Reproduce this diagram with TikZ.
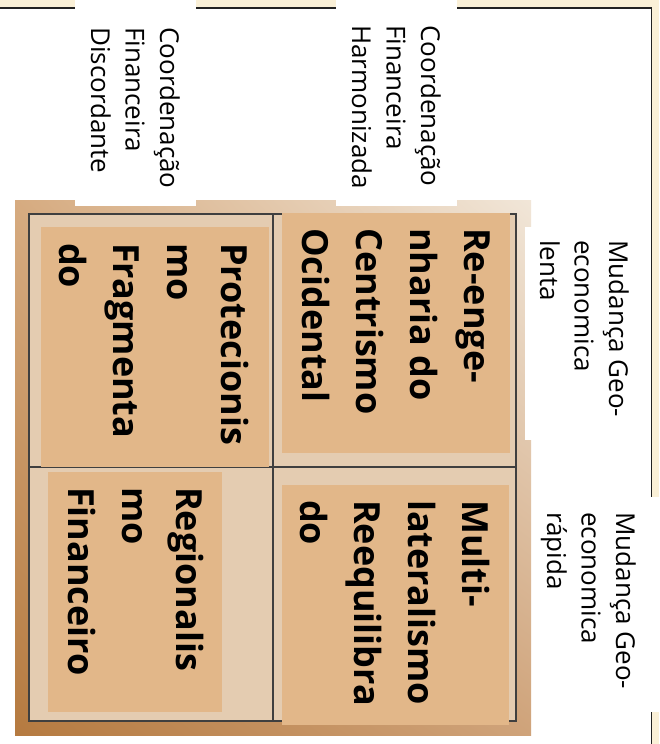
\documentclass[tikz,border=0pt]{standalone}
\usepackage{fontspec}
\setmainfont{Open Sans}
\usetikzlibrary{shadings}
\definecolor{page}{HTML}{FAF0D7}
\definecolor{frameTL}{HTML}{D6AB80}
\definecolor{frameTR}{HTML}{F1E6D8}
\definecolor{frameBL}{HTML}{B57A40}
\definecolor{frameBR}{HTML}{CFA37A}
\definecolor{cell}{HTML}{E4CCB1}
\definecolor{quad}{HTML}{E2B789}
\definecolor{gridline}{HTML}{3F3F3F}
\definecolor{border}{HTML}{222222}
\begin{document}
\begin{tikzpicture}[x=1pt,y=-1pt,
  quadtext/.style={rotate=-90,anchor=north west,inner sep=0pt,align=left,
    font=\fontsize{36}{54}\selectfont\bfseries},
  axistext/.style={rotate=-90,anchor=north west,inner sep=0pt,align=left,
    font=\fontsize{26}{34.5}\selectfont},
  labelbox/.style={fill=white,draw=none}]
\useasboundingbox (0,0) rectangle (659,744);
\begin{scope}
\clip (0,0) rectangle (659,744);
% page and slide area
\fill[page] (0,0) rectangle (659,744);
\fill[white,draw=border,line width=1.2pt] (-20,8) rectangle (651.5,780);
% shaded frame of the matrix
\shade[upper left=frameTL,upper right=frameTR,lower left=frameBL,lower right=frameBR]
  (15,200) rectangle (531,735);
% grid cells
\fill[cell] (29,214) rectangle (516,721);
\draw[gridline,line width=1.5pt] (29,214) rectangle (516,721);
\draw[gridline,line width=1.5pt] (273,214) -- (273,721);
\draw[gridline,line width=1.5pt] (29,467) -- (516,467);
% quadrant boxes
\fill[quad] (41,227) rectangle (269,467);
\fill[quad] (282,213) rectangle (510,453);
\fill[quad] (48,472) rectangle (222,712);
\fill[quad] (282,485) rectangle (509,725);
% axis label backgrounds
\fill[labelbox] (75,0) rectangle (196,206);
\fill[labelbox] (336,0) rectangle (457,206);
\fill[labelbox] (525,227) rectangle (651.5,440);
\draw[border,line width=1.2pt] (651.5,8) -- (651.5,744);
\fill[labelbox] (533,497) rectangle (659,712);
\end{scope}
% quadrant texts
\node[quadtext] (reeng) at (490,228) {Re-enge-\\nharia do\\Centrismo\\Ocidental};
\node[quadtext] (protec) at (249,243) {Protecionis\\mo\\Fragmenta\\do};
\node[quadtext] (multi) at (490,500) {Multi-\\lateralismo\\Reequilibra\\do};
\node[quadtext] (region) at (204,487) {Regionalis\\mo\\Financeiro};
% axis texts
\node[axistext] (harm) at (441,25) {Coordenação\\Financeira\\Harmonizada};
\node[axistext] (disc) at (180,27) {Coordenação\\Financeira\\Discordante};
\node[axistext] (slow) at (629,240) {Mudança Geo-\\economica\\lenta};
\node[axistext] (fast) at (636,512) {Mudança Geo-\\economica\\rápida};
\end{tikzpicture}
\end{document}
